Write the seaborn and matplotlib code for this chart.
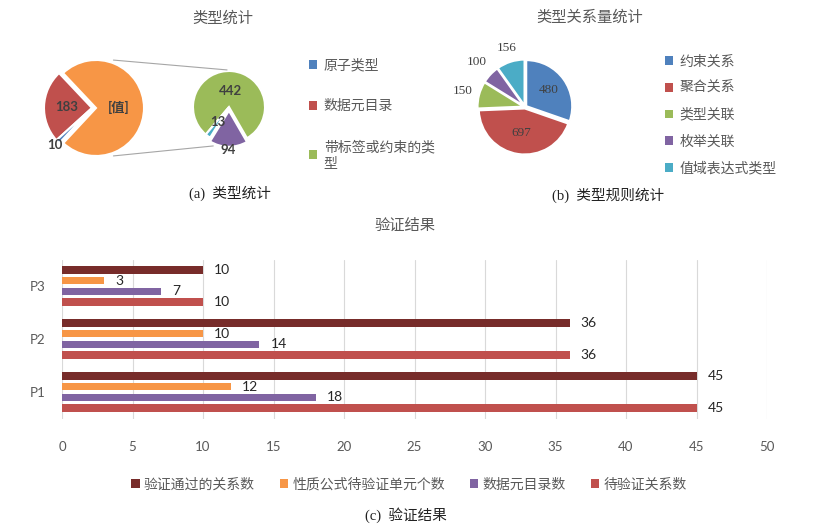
import numpy as np
import pandas as pd
import matplotlib
matplotlib.use("Agg")
import matplotlib.pyplot as plt
import seaborn as sns
from matplotlib.patches import ConnectionPatch, Patch

# (a) 类型统计 - 复合饼图
main_labels = ["[值]", "数据元目录", "原子类型"]
main_values = [549, 183, 10]
main_colors = ["#F79646", "#C0504D", "#4F81BD"]

sub_labels = ["带标签或约束的类型", "原子类型", "其他"]
sub_values = [442, 13, 94]
sub_colors = ["#9BBB59", "#4BACC6", "#8064A2"]

legend_a_labels = ["原子类型", "数据元目录", "带标签或约束的类\n型"]
legend_a_colors = ["#4F81BD", "#C0504D", "#9BBB59"]

# (b) 类型关系量统计
rel_labels = ["约束关系", "聚合关系", "类型关联", "枚举关联", "值域表达式类型"]
rel_values = [480, 697, 150, 100, 156]
rel_colors = ["#4F81BD", "#C0504D", "#9BBB59", "#8064A2", "#4BACC6"]

# (c) 验证结果
projects = ["P1", "P2", "P3"]
series = ["验证通过的关系数", "性质公式待验证单元个数", "数据元目录数", "待验证关系数"]
passed = [45, 36, 10]
formula_units = [12, 10, 3]
catalog = [18, 14, 7]
pending = [45, 36, 10]
bar_colors = ["#772C2A", "#F79646", "#8064A2", "#C0504D"]

sns.set_theme(style="white")
plt.rcParams["font.family"] = ["Lato", "Noto Sans CJK SC", "DejaVu Sans"]
text_color = "#595959"
caption_font = ["Liberation Serif", "Noto Sans CJK SC"]

W, H = 840, 526
fig = plt.figure(figsize=(8.4, 5.26), dpi=100)


def add_square_axes(cx, cy, size):
    return fig.add_axes([(cx - size / 2) / W, 1 - (cy + size / 2) / H, size / W, size / H])


def wedge_point(w, angle, r):
    cx, cy = w.center
    a = np.deg2rad(angle)
    return cx + r * np.cos(a), cy + r * np.sin(a)


wedge_kw = dict(edgecolor="white", linewidth=1.5)

# ---- main pie (a)
ax_m = add_square_axes(92, 108, 120)
wedges_m, _ = ax_m.pie(main_values, colors=main_colors, startangle=-133,
                       counterclock=True, radius=0.96, explode=[0.08, 0, 0],
                       wedgeprops=wedge_kw)
ax_m.set_xlim(-1.2, 1.2)
ax_m.set_ylim(-1.2, 1.2)
ax_m.set_aspect("equal")
ax_m.axis("off")
for w, lab, val, r in zip(wedges_m, main_labels, main_values, [0.45, 0.5, 1.05]):
    mid = (w.theta1 + w.theta2) / 2
    x, y = wedge_point(w, mid, r)
    txt = lab if lab == "[值]" else str(val)
    ax_m.text(x, y, txt, ha="center", va="center", fontsize=9.5,
              fontweight="bold", color="#404040")

# ---- secondary pie (a)
ax_s = add_square_axes(229, 107, 90)
wedges_s, _ = ax_s.pie(sub_values, colors=sub_colors, startangle=-60,
                       counterclock=True, radius=0.96, explode=[0, 0, 0.1],
                       wedgeprops=wedge_kw)
ax_s.set_xlim(-1.2, 1.2)
ax_s.set_ylim(-1.2, 1.2)
ax_s.set_aspect("equal")
ax_s.axis("off")
for w, val, r in zip(wedges_s, sub_values, [0.42, 0.5, 1.05]):
    mid = (w.theta1 + w.theta2) / 2
    x, y = wedge_point(w, mid, r)
    ax_s.text(x, y, str(val), ha="center", va="center", fontsize=9.5,
              fontweight="bold", color="#404040")

# connector lines
for a_main, a_sub, r_sub in [(70, 93, 0.99), (-70, -112, 1.12)]:
    a1 = np.deg2rad(a_main)
    a2 = np.deg2rad(a_sub)
    con = ConnectionPatch(xyA=(0.08 + 1.02 * np.cos(a1), 1.02 * np.sin(a1)), coordsA=ax_m.transData,
                          xyB=(r_sub * np.cos(a2), r_sub * np.sin(a2)), coordsB=ax_s.transData,
                          color="#A6A6A6", lw=0.8)
    fig.add_artist(con)

handles_a = [Patch(facecolor=c, edgecolor="none") for c in legend_a_colors]
fig.legend(handles_a, legend_a_labels, loc="upper left", bbox_to_anchor=(296 / W, 1 - 45 / H),
           frameon=False, fontsize=10, labelspacing=2.0, handlelength=0.6,
           handleheight=0.6, handletextpad=0.5, labelcolor=text_color)

fig.text(223 / W, 1 - 18 / H, "类型统计", ha="center", va="center", fontsize=11, color=text_color)
fig.text(230 / W, 1 - 193 / H, "(a)  类型统计", ha="center", va="center", fontsize=10.5,
         color="#222222", family=caption_font)

# ---- pie (b)
ax_b = add_square_axes(525, 107, 120)
wedges_b, _ = ax_b.pie(rel_values, colors=rel_colors, startangle=90,
                       counterclock=False, radius=0.92, explode=[0.03] * 5,
                       wedgeprops=wedge_kw)
ax_b.set_xlim(-1.2, 1.2)
ax_b.set_ylim(-1.2, 1.2)
ax_b.set_aspect("equal")
ax_b.axis("off")
for w, val, r in zip(wedges_b, rel_values, [0.55, 0.5, 1.25, 1.3, 1.2]):
    mid = (w.theta1 + w.theta2) / 2
    x, y = wedge_point(w, mid, r)
    ax_b.text(x, y, str(val), ha="center", va="center", fontsize=9.5,
              color="#404040", family=caption_font)

handles_b = [Patch(facecolor=c, edgecolor="none") for c in rel_colors]
fig.legend(handles_b, rel_labels, loc="upper left", bbox_to_anchor=(652 / W, 1 - 42 / H),
           frameon=False, fontsize=10, labelspacing=0.95, handlelength=0.6,
           handleheight=0.6, handletextpad=0.5, labelcolor=text_color)

fig.text(590 / W, 1 - 17 / H, "类型关系量统计", ha="center", va="center", fontsize=11, color=text_color)
fig.text(608 / W, 1 - 195 / H, "(b)  类型规则统计", ha="center", va="center", fontsize=10.5,
         color="#222222", family=caption_font)

# ---- bar chart (c)
df = pd.DataFrame({
    "项目": projects * 4,
    "指标": np.repeat(series, len(projects)),
    "数量": passed + formula_units + catalog + pending,
})

ax_c = fig.add_axes([62 / W, 1 - 418.5 / H, 705 / W, 159 / H])
sns.barplot(data=df, x="数量", y="项目", hue="指标", order=["P3", "P2", "P1"],
            hue_order=series, palette=bar_colors, orient="h", width=0.81,
            gap=0.3, saturation=1, linewidth=0, ax=ax_c)
for cont in ax_c.containers:
    ax_c.bar_label(cont, padding=8, fontsize=10, color="#262626")
ax_c.set_xlim(0, 50)
ax_c.set_xticks(range(0, 51, 5))
ax_c.grid(axis="x", color="#D9D9D9", linewidth=0.8)
ax_c.set_axisbelow(True)
sns.despine(ax=ax_c, left=True, bottom=True)
ax_c.set_xlabel("")
ax_c.set_ylabel("")
ax_c.tick_params(axis="x", length=0, pad=16, labelsize=9.5, labelcolor=text_color)
ax_c.tick_params(axis="y", length=0, pad=12, labelsize=9.5, labelcolor=text_color)

handles_c, labels_c = ax_c.get_legend_handles_labels()
ax_c.get_legend().remove()
fig.legend(handles_c, labels_c, loc="center", bbox_to_anchor=(409 / W, 1 - 484 / H), ncol=4,
           frameon=False, fontsize=10, handlelength=0.6, handleheight=0.6,
           handletextpad=0.3, columnspacing=1.8, labelcolor=text_color)

fig.text(405 / W, 1 - 226 / H, "验证结果", ha="center", va="center", fontsize=11, color=text_color)
fig.text(406 / W, 1 - 515 / H, "(c)  验证结果", ha="center", va="center", fontsize=10.5,
         color="#222222", family=caption_font)

fig.savefig("out.png", dpi=100)
plt.close(fig)
